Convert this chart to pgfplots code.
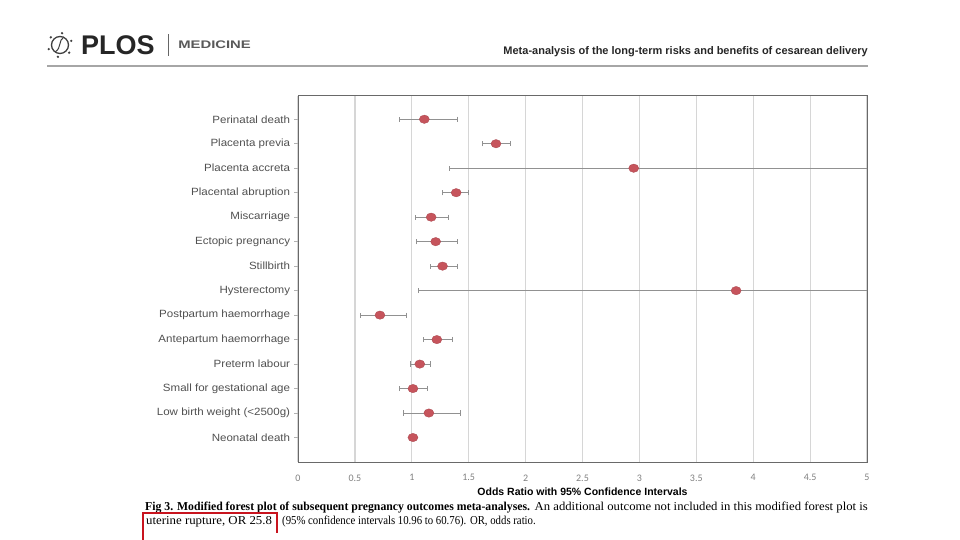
\documentclass[border=0pt]{standalone}
\usepackage{fontspec}
\setmainfont{Liberation Serif}
\setsansfont{Liberation Sans}
\newfontfamily\carlito{Carlito}
\usepackage{pgfplots}
\pgfplotsset{compat=1.18}
\usepackage{pgfplotstable}

\definecolor{dotred}{RGB}{198,84,92}
\definecolor{barg}{RGB}{145,145,145}
\definecolor{gridg}{RGB}{214,214,214}
\definecolor{axisg}{RGB}{105,105,105}
\definecolor{labg}{RGB}{80,80,80}
\definecolor{boxred}{RGB}{200,20,30}

% odds ratio with 95% CI; idx 0 = top row
\pgfplotstableread{
idx or   lo   hi
0   1.11 0.89 1.40
1   1.74 1.62 1.87
2   2.95 1.33 7.00
3   1.39 1.27 1.50
4   1.17 1.03 1.32
5   1.21 1.04 1.40
6   1.27 1.16 1.40
7   3.85 1.06 7.00
8   0.72 0.55 0.95
9   1.22 1.10 1.36
10  1.07 0.99 1.16
11  1.01 0.89 1.14
12  1.15 0.93 1.43
13  1.01 1.00 1.02
}\ortable

\begin{document}
\begin{tikzpicture}[x=1pt,y=1pt]
\path[use as bounding box] (0,0) rectangle (960,540);

% header
\draw[gray!70, line width=1.4pt] (47,474) -- (868,474);
\draw[black!75, line width=1.3pt] (60,495) circle (8.5);
\draw[black!75, line width=1pt] (55,488) .. controls (62,492) and (58,500) .. (64,503);
\foreach \a in {20,80,140,200,260,320} \fill[black!75] (60,495) ++(\a:12) circle (1.3);
\node[anchor=west, inner sep=0, font=\sffamily\bfseries\fontsize{27}{28}\selectfont, text=black!85] at (81,495) {PLOS};
\draw[black!60, line width=0.8pt] (168,484) -- (168,506);
\node[anchor=west, inner sep=0, font=\sffamily\bfseries\fontsize{11}{12}\selectfont, text=black!65, xscale=1.35] at (178,495) {MEDICINE};
\node[anchor=east, inner sep=0, font=\sffamily\bfseries\fontsize{11}{12}\selectfont, text=black!85] at (868,488.5) {Meta-analysis of the long-term risks and benefits of cesarean delivery};

\begin{axis}[
  at={(298pt,78pt)}, anchor=south west,
  width=569pt, height=366pt, scale only axis,
  xmin=0, xmax=5, ymin=-0.95, ymax=14.0, y dir=reverse,
  xtick={0,0.5,...,5},
  xticklabels={0,0.5,1,1.5,2,2.5,3,3.5,4,4.5,5},
  ytick={0,...,13},
  yticklabels={Perinatal death, Placenta previa, Placenta accreta, Placental abruption, Miscarriage, Ectopic pregnancy, Stillbirth, Hysterectomy, Postpartum haemorrhage, Antepartum haemorrhage, Preterm labour, Small for gestational age, Low birth weight (<2500g), Neonatal death},
  xmajorgrids, major x grid style={gridg, line width=1.2pt},
  axis line style={axisg, line width=1pt},
  xtick style={draw=none},
  ytick pos=left, tick align=outside, major tick length=4pt,
  ytick style={gray!60, line width=0.6pt},
  yticklabel style={font=\sffamily\fontsize{10.5}{12}\selectfont, text=labg, xscale=1.1},
  xticklabel style={font=\carlito\fontsize{10}{11}\selectfont, text=gray, yshift=-5pt},
  xlabel={Odds Ratio with 95\% Confidence Intervals},
  xlabel style={font=\sffamily\bfseries\fontsize{10.5}{12}\selectfont, yshift=0pt},
]
\addplot[only marks, mark=none,
  error bars/.cd, x dir=both, x explicit, error mark=|,
  error bar style={barg, line width=1pt},
  error mark options={barg, line width=1pt, mark size=2.6pt}]
  table[x=or, y=idx,
    x error plus expr=\thisrow{hi}-\thisrow{or},
    x error minus expr=\thisrow{or}-\thisrow{lo}] {\ortable};
\addplot[only marks, mark=*, mark size=4.2pt,
  mark options={fill=dotred, draw=dotred!85!black, line width=0.3pt, xscale=1.2}]
  table[x=or, y=idx] {\ortable};
\end{axis}

% caption
\node[anchor=base west, inner sep=0, font=\bfseries\fontsize{12.1}{13}\selectfont, xscale=0.97] at (145,29)
  {Fig 3. Modified forest plot of subsequent pregnancy outcomes meta-analyses.};
\node[anchor=base east, inner sep=0, font=\fontsize{12.1}{13}\selectfont, xscale=1.05] at (868,29)
  {An additional outcome not included in this modified forest plot is};
\node[anchor=base west, inner sep=0, font=\fontsize{12.1}{13}\selectfont, xscale=1.06] at (146,15)
  {uterine rupture, OR 25.8};
\node[anchor=base west, inner sep=0, font=\fontsize{12.1}{13}\selectfont, xscale=0.89] at (282,15)
  {(95\% confidence intervals 10.96 to 60.76). OR, odds ratio.};
\draw[boxred, line width=2pt] (143,0) -- (143,27) -- (277,27) -- (277,7);
\end{tikzpicture}
\end{document}
